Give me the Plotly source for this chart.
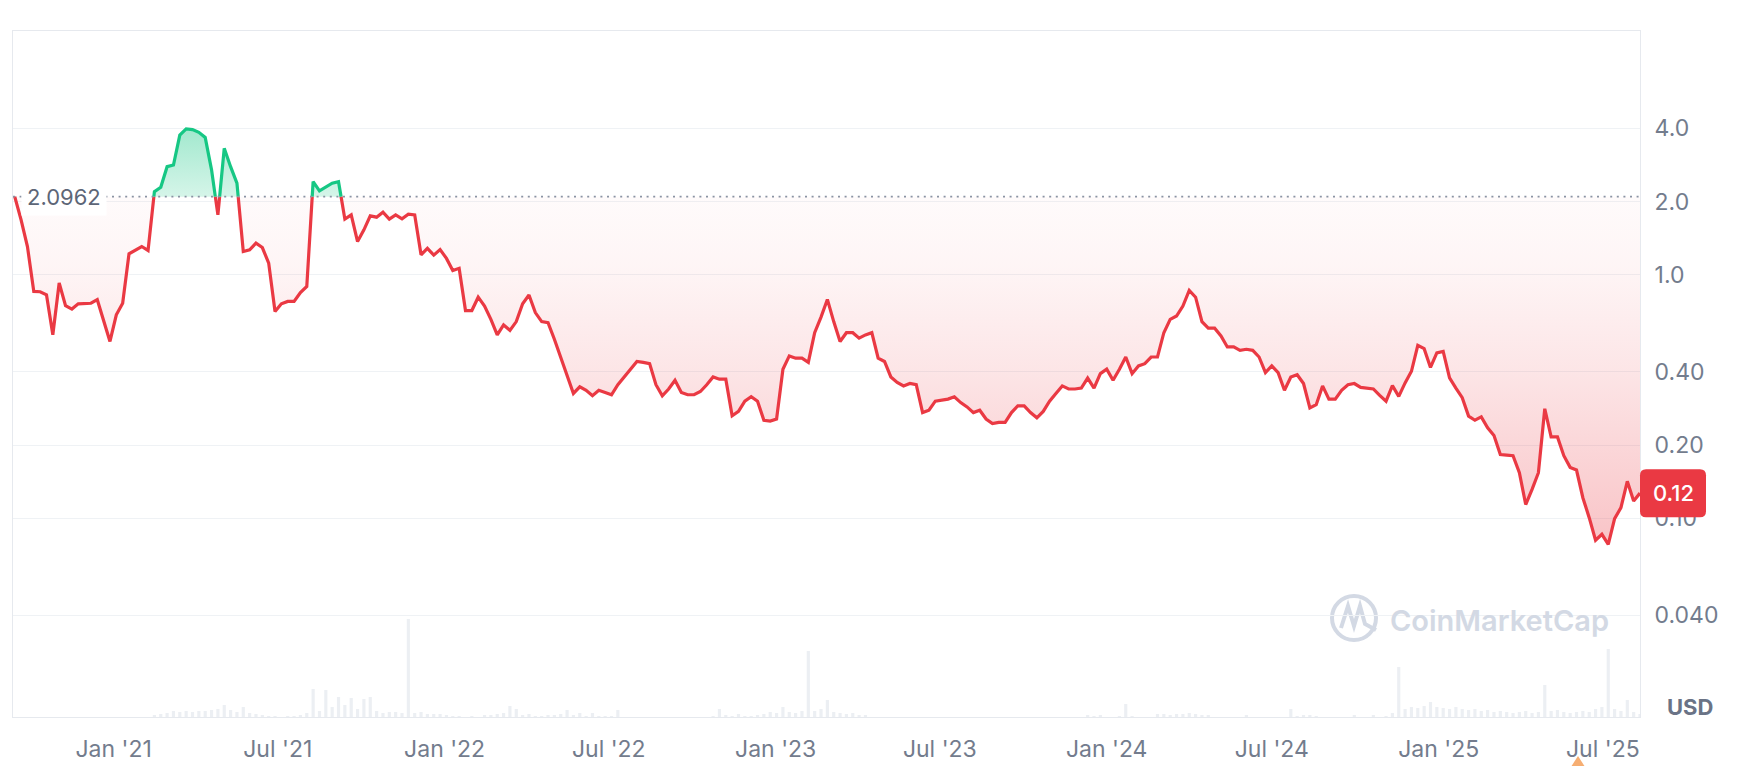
import math
import pandas as pd
import plotly.graph_objects as go

# ---------------- data (weekly closes, USD) ----------------
START = "2020-09-14"
price = [
    2.0962, 1.683, 1.308, 0.855, 0.853, 0.829, 0.568, 0.926, 0.747, 0.724,
    0.761, 0.762, 0.765, 0.791, 0.65, 0.533, 0.686, 0.765, 1.221, 1.268,
    1.308, 1.26, 2.198, 2.29, 2.783, 2.828, 3.75, 3.98, 3.95, 3.85,
    3.67, 2.7, 1.764, 3.311, 2.783, 2.38, 1.247, 1.268, 1.351, 1.295,
    1.118, 0.708, 0.761, 0.778, 0.778, 0.847, 0.896, 2.415, 2.213, 2.29,
    2.38, 2.415, 1.694, 1.764, 1.371, 1.531, 1.747, 1.726, 1.81, 1.694,
    1.764, 1.70, 1.776, 1.764, 1.209, 1.285, 1.206, 1.271, 1.169, 1.042,
    1.064, 0.714, 0.714, 0.810, 0.745, 0.657, 0.567, 0.623, 0.592, 0.643,
    0.761, 0.827, 0.700, 0.643, 0.637, 0.544, 0.460, 0.381, 0.326, 0.347,
    0.336, 0.319, 0.336, 0.329, 0.322, 0.354, 0.381, 0.406, 0.441, 0.437,
    0.432, 0.354, 0.319, 0.340, 0.369, 0.329, 0.322, 0.322, 0.332, 0.354,
    0.381, 0.373, 0.373, 0.264, 0.275, 0.303, 0.316, 0.303, 0.253, 0.251,
    0.256, 0.410, 0.465, 0.455, 0.455, 0.437, 0.579, 0.671, 0.793, 0.643,
    0.533, 0.579, 0.579, 0.550, 0.567, 0.579, 0.455, 0.441, 0.381, 0.362,
    0.350, 0.358, 0.354, 0.272, 0.278, 0.303, 0.306, 0.309, 0.316, 0.299,
    0.287, 0.272, 0.278, 0.256, 0.245, 0.248, 0.248, 0.272, 0.290, 0.290,
    0.272, 0.259, 0.275, 0.303, 0.326, 0.350, 0.340, 0.340, 0.343, 0.377,
    0.343, 0.393, 0.410, 0.369, 0.410, 0.460, 0.393, 0.423, 0.432, 0.460,
    0.460, 0.579, 0.657, 0.678, 0.745, 0.863, 0.810, 0.643, 0.604, 0.604,
    0.561, 0.506, 0.506, 0.490, 0.495, 0.490, 0.460, 0.397, 0.423, 0.397,
    0.336, 0.381, 0.389, 0.358, 0.284, 0.293, 0.350, 0.309, 0.309, 0.336,
    0.354, 0.358, 0.345, 0.342, 0.340, 0.32, 0.303, 0.351, 0.317, 0.36,
    0.402, 0.514, 0.498, 0.417, 0.478, 0.485, 0.378, 0.343, 0.313, 0.263,
    0.253, 0.261, 0.2355, 0.219, 0.183, 0.182, 0.181, 0.154, 0.114, 0.1315,
    0.154, 0.282, 0.216, 0.216, 0.181, 0.162, 0.158, 0.1216, 0.1007, 0.0813,
    0.086, 0.0782, 0.0998, 0.1107, 0.142, 0.118, 0.127,
]

# weekly traded volume (relative units)
volume = [
    0, 0, 0, 0, 0, 0, 0, 0, 0, 0, 0, 0, 0, 0, 0, 0, 0, 0, 0, 0, 0, 0,
    2, 3, 4, 6, 5, 6, 5, 6, 6, 7, 8, 12, 7, 5, 10, 4, 3, 2,
    1, 1, 0, 1, 1,
    2, 4, 28, 6, 27, 10, 20, 12, 19, 8, 18, 20, 6, 4, 5, 5, 4, 98, 4, 5, 3, 3, 3,
    2, 1, 1, 0, 1, 0,
    2, 2, 3, 4, 11, 8, 2, 3, 1, 1, 2, 2, 3, 7, 2, 4, 1, 4, 1, 1, 1, 7,
    0, 0, 0, 0, 0, 0, 0, 0, 0, 0, 0, 0, 0, 0,
    1, 8, 2, 1, 3, 1, 1, 2, 3, 5, 4, 10, 5, 4, 6, 66, 6, 8, 17, 5, 4, 3, 4, 2, 2,
    0, 0, 0, 0, 0, 0, 0, 0, 0, 0, 0, 0, 0, 0, 0, 0, 0,
    0, 0, 0, 0, 0, 0, 0, 0, 0, 0, 0, 0, 0, 0, 0, 0, 0,
    2, 1, 2, 0, 0, 1, 13, 1, 0, 0, 0, 3, 3, 2, 3, 3, 4, 3, 2, 2,
    0, 0, 0, 0, 0, 2, 0, 0, 0, 0, 0, 0, 8, 1, 2, 2, 1, 0, 0, 0,
    0, 0, 2, 0, 0, 2, 0, 1, 4,
    50, 8, 10, 9, 11, 15, 10, 9, 8, 10, 8, 7, 8, 6, 7, 5, 6, 5, 4, 5,
    6, 4, 5, 32, 6, 7, 5, 4, 5, 6, 5, 8, 10, 68, 8, 6, 17, 5, 3,
]

y_tick_vals = [4.0, 2.0, 1.0, 0.40, 0.20, 0.10, 0.040]
y_tick_text = ["4.0", "2.0", "1.0", "0.40", "0.20", "0.10", "0.040"]
base_label = "2.0962"
last_label = "0.12"
currency = "USD"
watermark = "CoinMarketCap"

# ---------------- style ----------------
RED = "#EA3943"
GREEN = "#16C784"
GRAY_TXT = "#737C8D"
GRID = "#EFF2F5"
FRAME = "#E6E9EE"
WM = "#D3D9E4"
FONT = "Inter, Roboto, sans-serif"
TICK_SIZE = 23

W, H = 1740, 766
ML, MR, MT, MB = 13, 100, 31, 49
PW, PH = W - ML - MR, H - MT - MB

dates = pd.date_range(START, periods=len(price), freq="7D")
vdates = pd.date_range(START, periods=len(volume), freq="7D")
base = price[0]

# insert baseline crossings so red/green segments meet exactly at the baseline
aug_t, aug_p = [], []
for i in range(len(price)):
    aug_t.append(dates[i])
    aug_p.append(price[i])
    if i + 1 < len(price):
        a, b = price[i], price[i + 1]
        if (a - base) * (b - base) < 0:
            f = (math.log10(base) - math.log10(a)) / (math.log10(b) - math.log10(a))
            aug_t.append(dates[i] + (dates[i + 1] - dates[i]) * f)
            aug_p.append(base)

below = [min(p, base) for p in aug_p]
above = [max(p, base) for p in aug_p]
red_line = [p if p <= base else None for p in aug_p]
green_line = [p if p >= base else None for p in aug_p]
base_arr = [base for _ in aug_p]

fig = go.Figure()

fig.add_trace(go.Bar(x=vdates, y=volume, marker=dict(color="#ECEFF3", line=dict(width=0)),
                     yaxis="y", hoverinfo="skip"))

fig.add_trace(go.Scatter(x=aug_t, y=base_arr, yaxis="y2", mode="lines",
                         line=dict(width=0), hoverinfo="skip"))
fig.add_trace(go.Scatter(x=aug_t, y=below, yaxis="y2", mode="lines", line=dict(width=0),
                         fill="tonexty",
                         fillgradient=dict(type="vertical", colorscale=[
                             [0.0, "rgba(234,57,67,0.30)"],
                             [0.5, "rgba(234,57,67,0.13)"],
                             [0.8, "rgba(234,57,67,0.05)"],
                             [1.0, "rgba(234,57,67,0.02)"]]),
                         hoverinfo="skip"))
fig.add_trace(go.Scatter(x=aug_t, y=base_arr, yaxis="y2", mode="lines",
                         line=dict(width=0), hoverinfo="skip"))
fig.add_trace(go.Scatter(x=aug_t, y=above, yaxis="y2", mode="lines", line=dict(width=0),
                         fill="tonexty",
                         fillgradient=dict(type="vertical", colorscale=[
                             [0.0, "rgba(22,199,132,0.18)"],
                             [1.0, "rgba(22,199,132,0.40)"]]),
                         hoverinfo="skip"))
fig.add_trace(go.Scatter(x=aug_t, y=red_line, yaxis="y2", mode="lines",
                         line=dict(color=RED, width=3.2, shape="linear"), connectgaps=False))
fig.add_trace(go.Scatter(x=aug_t, y=green_line, yaxis="y2", mode="lines",
                         line=dict(color=GREEN, width=3.2, shape="linear"), connectgaps=False))

# price axis range (log): 4.0 sits ~97px below the top, ~243.5 px per decade
decade_px = 243.5
top_log = math.log10(4.0) + (128.3 - MT) / decade_px
bot_log = top_log - PH / decade_px


def px(x):
    return (x - ML) / PW


def py(y):
    return (H - MB - y) / PH


shapes = [
    # dotted baseline at the opening price
    dict(type="line", xref="paper", yref="y2", x0=0, x1=1, y0=base, y1=base,
         line=dict(color="#8A93A3", width=1.6, dash="2px,4.6px"), layer="above"),
    # current price badge (rounded)
    dict(type="path", xref="paper", yref="y2", xsizemode="pixel", ysizemode="pixel",
         xanchor=1, yanchor=price[-1],
         path="M 6 24 L 60 24 Q 66 24 66 18 L 66 -18 Q 66 -24 60 -24 L 6 -24 "
              "Q 0 -24 0 -18 L 0 18 Q 0 24 6 24 Z",
         fillcolor=RED, line=dict(width=0), layer="above"),
    # watermark logo
    dict(type="circle", xref="paper", yref="paper",
         x0=px(1354 - 22), x1=px(1354 + 22), y0=py(618 + 22), y1=py(618 - 22),
         line=dict(color=WM, width=4), layer="below"),
    dict(type="path", xref="paper", yref="paper",
         path=(f"M {px(1341)} {py(628)} L {px(1348)} {py(606)} L {px(1354)} {py(626)} "
               f"L {px(1360)} {py(606)} L {px(1365)} {py(624)} L {px(1376)} {py(630)}"),
         line=dict(color=WM, width=4), layer="below"),
    # orange event marker at the bottom
    dict(type="path", xref="paper", yref="paper",
         path=f"M {px(1578)} {py(756)} L {px(1587)} {py(770)} L {px(1569)} {py(770)} Z",
         fillcolor="#F6AE72", line=dict(width=0)),
]

annotations = [
    dict(xref="paper", yref="y2", x=0, y=math.log10(base), xanchor="left", yanchor="middle",
         xshift=8, text=base_label, showarrow=False, bgcolor="white", borderpad=5,
         font=dict(family=FONT, size=22, color="#5D6677")),
    dict(xref="paper", yref="y2", x=1, y=math.log10(price[-1]), xanchor="center",
         yanchor="middle", xshift=33, text=last_label, showarrow=False,
         font=dict(family=FONT, size=22, color="white", weight=500)),
    dict(xref="paper", yref="paper", x=px(1689.5), y=py(707), xanchor="center", yanchor="middle",
         text=currency, showarrow=False,
         font=dict(family=FONT, size=22, color="#6A7386", weight=700)),
    dict(xref="paper", yref="paper", x=px(1388), y=py(620), xanchor="left", yanchor="middle",
         text=watermark, showarrow=False,
         font=dict(family=FONT, size=29, color=WM, weight=600)),
]

fig.update_layout(
    width=W, height=H,
    margin=dict(l=ML, r=MR, t=MT, b=MB, autoexpand=False),
    paper_bgcolor="white", plot_bgcolor="white",
    showlegend=False,
    bargap=0.5,
    font=dict(family=FONT, size=TICK_SIZE, color=GRAY_TXT),
    xaxis=dict(type="date", range=["2020-09-12 02:00", "2025-08-11 00:00"],
               tick0="2021-01-01", dtick="M6", tickformat="%b '%y",
               showgrid=False, zeroline=False, showline=True, mirror=True,
               linecolor=FRAME, linewidth=1, ticks="", ticklabelstandoff=11,
               automargin=False,
               tickfont=dict(family=FONT, size=TICK_SIZE, color=GRAY_TXT)),
    yaxis=dict(range=[0, 7 * max(volume)], visible=False, fixedrange=True, automargin=False),
    yaxis2=dict(type="log", overlaying="y", side="right", range=[bot_log, top_log],
                tickvals=y_tick_vals, ticktext=y_tick_text,
                showgrid=True, gridcolor=GRID, gridwidth=1, zeroline=False,
                showline=True, mirror=True, linecolor=FRAME, linewidth=1,
                ticks="", ticklabelstandoff=9, automargin=False,
                tickfont=dict(family=FONT, size=TICK_SIZE, color=GRAY_TXT)),
    shapes=shapes,
    annotations=annotations,
)

fig.write_html("out.html", config={"displayModeBar": False},
               post_script="document.body.style.margin='0';")
